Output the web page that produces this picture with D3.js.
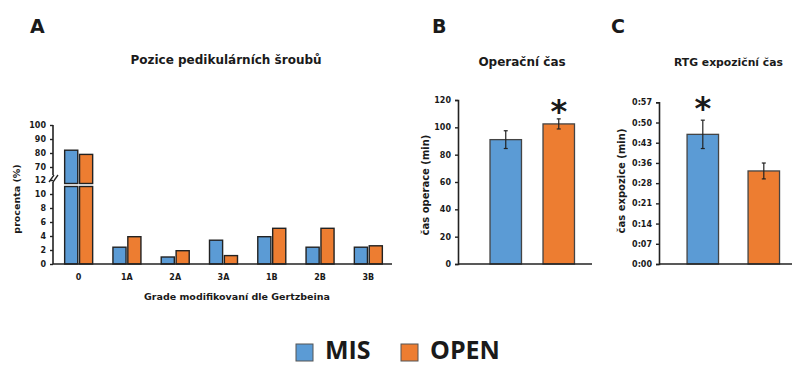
<!DOCTYPE html>
<html><head><meta charset="utf-8">
<script src="https://cdn.jsdelivr.net/npm/d3@7"></script>
<style>
body{margin:0;background:#fff;}
svg text{font-family:"DejaVu Sans",Verdana,sans-serif;font-weight:bold;fill:#1a1a1a;}
</style></head>
<body><svg id="c" width="792" height="366"></svg>
<script>
// ---- data ----
const gradeCats = ["0","1A","2A","3A","1B","2B","3B"];
const gradeMIS  = [82, 2.4, 1.0, 3.4, 3.9, 2.4, 2.4];
const gradeOPEN = [79, 3.9, 1.9, 1.2, 5.1, 5.1, 2.6];
const lowTicks = [0,2,4,6,8,10,12];
const highTicks = [70,80,90,100];

const groups = ["MIS","OPEN"];
const opMean = [91, 102.5];
const opErr  = [6.5, 3.7];
const opTicks = [0,20,40,60,80,100,120];

const rtgMean = [45.7, 32.8];
const rtgErr  = [5.0, 2.8];
const rtgTickVals = [0,7.125,14.25,21.375,28.5,35.625,42.75,49.875,57];
const rtgTickLabels = ["0:00","0:07","0:14","0:21","0:28","0:36","0:43","0:50","0:57"];

const colors = {MIS:"#5B9BD5", OPEN:"#ED7D31"};

const svg = d3.select("#c");

function styleAxis(g){
  g.selectAll(".domain").attr("stroke","#222").attr("stroke-width",1.6);
  g.selectAll(".tick line").attr("stroke","#222").attr("stroke-width",1.4);
  g.selectAll(".tick text").attr("font-size",8).attr("fill","#1a1a1a");
}
function errBar(x, yTop, yBot){
  svg.append("line").attr("x1",x).attr("x2",x).attr("y1",yTop).attr("y2",yBot).attr("stroke","#222").attr("stroke-width",1.2);
  [yTop,yBot].forEach(y=>{
    svg.append("line").attr("x1",x-2).attr("x2",x+2).attr("y1",y).attr("y2",y).attr("stroke","#222").attr("stroke-width",1.2);
  });
}

// ---------- Panel A ----------
const xA = d3.scaleBand().domain(gradeCats).range([55,392]).paddingInner(0.42).paddingOuter(0.2);
const xAin = d3.scaleBand().domain(groups).range([0,xA.bandwidth()]).paddingInner(0.12);
const yLow = d3.scaleLinear().domain([0,12]).range([264,180]);
const yHigh = d3.scaleLinear().domain([70,100]).range([167,125]);
const breakTop = 183.5, breakBot = 186.5;

svg.append("text").attr("x",30).attr("y",33).attr("font-size",19).text("A");
svg.append("text").attr("x",226).attr("y",64).attr("font-size",12).attr("text-anchor","middle").text("Pozice pedikulárních šroubů");

const gA = svg.append("g");
gradeCats.forEach((c,i)=>{
  groups.forEach((s,j)=>{
    const v = (s==="MIS"?gradeMIS:gradeOPEN)[i];
    const x = xA(c)+xAin(s), w = xAin.bandwidth();
    if (v>12){
      gA.append("rect").attr("x",x).attr("y",breakBot).attr("width",w).attr("height",yLow(0)-breakBot)
        .attr("fill",colors[s]).attr("stroke","#222").attr("stroke-width",1.4);
      gA.append("rect").attr("x",x).attr("y",yHigh(v)).attr("width",w).attr("height",breakTop-yHigh(v))
        .attr("fill",colors[s]).attr("stroke","#222").attr("stroke-width",1.4);
    } else {
      gA.append("rect").attr("x",x).attr("y",yLow(v)).attr("width",w).attr("height",yLow(0)-yLow(v))
        .attr("fill",colors[s]).attr("stroke","#222").attr("stroke-width",1.4);
    }
  });
});
const axLow = svg.append("g").attr("transform","translate(53,0)")
  .call(d3.axisLeft(yLow).tickValues(lowTicks).tickSize(3).tickPadding(4));
styleAxis(axLow);
axLow.select(".domain").remove();
const axHigh = svg.append("g").attr("transform","translate(53,0)")
  .call(d3.axisLeft(yHigh).tickValues(highTicks).tickSize(3).tickPadding(4));
styleAxis(axHigh);
axHigh.select(".domain").remove();
svg.append("line").attr("x1",53).attr("x2",53).attr("y1",yHigh(100)).attr("y2",175).attr("stroke","#222").attr("stroke-width",1.6);
svg.append("line").attr("x1",53).attr("x2",53).attr("y1",182).attr("y2",264).attr("stroke","#222").attr("stroke-width",1.6);
[0,4].forEach(d=>{
  svg.append("line").attr("x1",49+d).attr("x2",54+d).attr("y1",182).attr("y2",175).attr("stroke","#222").attr("stroke-width",1.3);
});
svg.append("line").attr("x1",53).attr("x2",392).attr("y1",264).attr("y2",264).attr("stroke","#222").attr("stroke-width",1.6);
gradeCats.forEach(c=>{
  svg.append("text").attr("x",xA(c)+xA.bandwidth()/2).attr("y",280).attr("font-size",8)
    .attr("text-anchor","middle").text(c);
});
svg.append("text").attr("x",237).attr("y",300).attr("font-size",9.5).attr("text-anchor","middle").text("Grade modifikovaní dle Gertzbeina");
svg.append("text").attr("transform","translate(20,199) rotate(-90)").attr("font-size",9.5).attr("text-anchor","middle").text("procenta (%)");

// ---------- Panel B ----------
const xB = d3.scaleBand().domain(groups).range([458,606.5]).paddingInner(0.406).paddingOuter(0.604);
const yB = d3.scaleLinear().domain([0,120]).range([264,100]);
svg.append("text").attr("x",432).attr("y",33).attr("font-size",19).text("B");
svg.append("text").attr("x",522).attr("y",66).attr("font-size",12).attr("text-anchor","middle").text("Operační čas");
groups.forEach((s,j)=>{
  svg.append("rect").attr("x",xB(s)).attr("y",yB(opMean[j])).attr("width",xB.bandwidth()).attr("height",yB(0)-yB(opMean[j]))
    .attr("fill",colors[s]).attr("stroke","#444").attr("stroke-width",1.3);
  errBar(xB(s)+xB.bandwidth()/2, yB(opMean[j]+opErr[j]), yB(opMean[j]-opErr[j]));
});
const axB = svg.append("g").attr("transform","translate(458,0)")
  .call(d3.axisLeft(yB).tickValues(opTicks).tickSize(3).tickPadding(4));
styleAxis(axB);
svg.append("line").attr("x1",458).attr("x2",592).attr("y1",264).attr("y2",264).attr("stroke","#222").attr("stroke-width",1.6);
svg.append("text").attr("x",xB("OPEN")+xB.bandwidth()/2).attr("y",122).attr("font-size",32).attr("text-anchor","middle").text("*");
svg.append("text").attr("transform","translate(429,185) rotate(-90)").attr("font-size",10).attr("text-anchor","middle").text("čas operace (min)");

// ---------- Panel C ----------
const xC = d3.scaleBand().domain(groups).range([659,807.6]).paddingInner(0.484).paddingOuter(0.46);
const yC = d3.scaleLinear().domain([0,57]).range([264,102.3]);
svg.append("text").attr("x",611).attr("y",33).attr("font-size",19).text("C");
svg.append("text").attr("x",674).attr("y",66).attr("font-size",10.8).text("RTG expoziční čas");
groups.forEach((s,j)=>{
  svg.append("rect").attr("x",xC(s)).attr("y",yC(rtgMean[j])).attr("width",xC.bandwidth()).attr("height",yC(0)-yC(rtgMean[j]))
    .attr("fill",colors[s]).attr("stroke","#444").attr("stroke-width",1.3);
  errBar(xC(s)+xC.bandwidth()/2, yC(rtgMean[j]+rtgErr[j]), yC(rtgMean[j]-rtgErr[j]));
});
const axC = svg.append("g").attr("transform","translate(659,0)")
  .call(d3.axisLeft(yC).tickValues(rtgTickVals).tickFormat((d,i)=>rtgTickLabels[i]).tickSize(3).tickPadding(4));
styleAxis(axC);
svg.append("line").attr("x1",659).attr("x2",792).attr("y1",264).attr("y2",264).attr("stroke","#222").attr("stroke-width",1.6);
svg.append("text").attr("x",xC("MIS")+xC.bandwidth()/2).attr("y",119).attr("font-size",32).attr("text-anchor","middle").text("*");
svg.append("text").attr("transform","translate(625,181) rotate(-90)").attr("font-size",10).attr("text-anchor","middle").text("čas expozice (min)");

// ---------- Legend ----------
const leg = svg.append("g");
const legX = [296, 401];
groups.forEach((s,j)=>{
  leg.append("rect").attr("x",legX[j]).attr("y",344).attr("width",17).attr("height",17)
    .attr("fill",colors[s]).attr("stroke","#555").attr("stroke-width",1);
  leg.append("text").attr("x",legX[j]+29).attr("y",359).attr("font-size",25)
    .style("font-family","'Open Sans',Lato,sans-serif").style("font-weight","bold").text(s);
});
</script></body></html>
